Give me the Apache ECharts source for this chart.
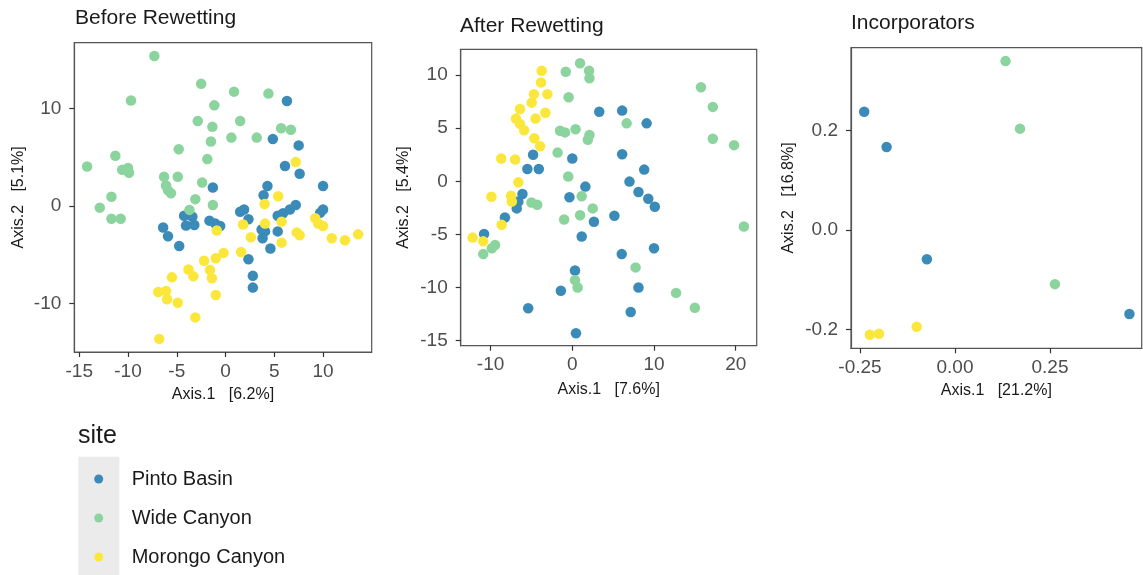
<!DOCTYPE html>
<html>
<head>
<meta charset="utf-8">
<script src="https://cdn.jsdelivr.net/npm/echarts@6/dist/echarts.min.js"></script>
<style>html,body{margin:0;padding:0;background:#fff}#c{width:1143px;height:575px}</style>
</head>
<body>
<div id="c"></div>
<script>
// ---------- data ----------
const sites = ['Pinto Basin', 'Wide Canyon', 'Morongo Canyon'];
const panelTitles = ['Before Rewetting', 'After Rewetting', 'Incorporators'];
const xNames = ['Axis.1   [6.2%]', 'Axis.1   [7.6%]', 'Axis.1   [21.2%]'];
const yNames = ['Axis.2   [5.1%]', 'Axis.2   [5.4%]', 'Axis.2   [16.8%]'];

const ticks1x = [-15, -10, -5, 0, 5, 10, 15];
const ticks1y = [-10, 0, 10];
const ticks2x = [-10, 0, 10, 20];
const ticks2y = [-15, -10, -5, 0, 5, 10];
const ticks3x = [-0.25, 0, 0.25];
const ticks3y = [-0.2, 0, 0.2];

// Before Rewetting
const before_pinto = [[-1.3,1.9],[6.3,10.75],[4.85,6.85],[7.5,6.2],[6.1,4.1],[7.6,3.3],[4.3,2.05],[10.0,2.05],[3.9,1.1],
  [-4.25,-1.0],[-3.4,-1.1],[-4.05,-2.0],[-3.2,-1.95],[-1.65,-1.5],[-1.05,-1.8],[-0.55,-2.05],[-6.4,-2.2],[-5.9,-3.1],
  [-4.75,-4.1],[1.5,-0.58],[1.9,-0.35],[2.35,-1.35],[3.7,-2.4],[4.05,-2.6],[3.8,-3.3],[5.35,-1.0],[5.9,-0.75],
  [6.6,-0.35],[7.2,0.1],[5.35,-2.6],[4.6,-4.35],[9.7,-0.7],[10.0,-0.35],[2.35,-5.45],[2.8,-7.15],[2.8,-8.35]];
const before_wide = [[-7.3,15.35],[-2.5,12.5],[-9.7,10.8],[-1.15,10.3],[-2.85,8.7],[-1.35,8.1],[-1.5,6.6],[-4.8,5.8],
  [-11.3,5.15],[-1.87,4.8],[-14.2,4.05],[-10.6,3.7],[-10.0,3.9],[-9.9,3.4],[-6.3,3.0],[-4.9,3.0],[-6.1,2.1],[-5.9,1.6],
  [-5.6,1.3],[-2.4,2.4],[-11.7,0.95],[-3.1,0.7],[0.87,11.7],[4.4,11.5],[1.5,8.7],[5.7,7.95],[6.7,7.8],[0.6,7.0],
  [3.2,7.0],[-12.9,-0.17],[-11.7,-1.3],[-10.75,-1.3],[-3.7,-0.4],[-1.3,0.1]];
const before_morongo = [[7.2,4.5],[5.4,1.0],[-0.9,-2.5],[-2.2,-5.6],[-1.0,-5.35],[-3.8,-6.5],[-3.3,-7.2],[-1.6,-6.55],
  [-1.4,-7.4],[-5.5,-7.3],[-6.9,-8.8],[-6.1,-8.7],[-6.0,-9.55],[-4.9,-9.9],[-1.0,-9.1],[-3.1,-11.4],[-6.8,-13.6],
  [4.0,0.2],[1.8,-1.9],[4.05,-1.8],[5.75,-1.6],[5.75,-3.75],[2.6,-3.2],[7.3,-2.7],[7.6,-3.0],[9.2,-1.25],[9.5,-1.8],
  [10.0,-2.05],[10.9,-3.3],[12.25,-3.5],[13.6,-2.9],[1.6,-4.7],[-0.2,-4.8]];

// After Rewetting
const after_pinto = [[3.3,6.55],[-4.8,2.5],[-5.5,1.15],[-4.1,1.15],[-6.1,-1.2],[-6.6,-1.9],[0.0,2.15],[1.6,-0.5],
  [-0.35,-1.5],[6.1,6.65],[9.1,5.45],[6.1,2.55],[8.8,1.1],[7.0,-0.03],[8.1,-1.0],[9.3,-1.65],[10.1,-2.4],[-6.8,-2.55],
  [-8.25,-3.4],[-10.8,-4.95],[2.65,-3.8],[1.15,-5.2],[0.33,-8.4],[-1.4,-10.3],[-5.4,-11.95],[0.45,-14.3],[5.15,-3.25],
  [6.05,-6.85],[10.0,-6.3],[8.1,-10.0],[7.15,-12.3]];
const after_wide = [[-5.0,-2.0],[-4.3,-2.2],[-0.8,10.3],[0.95,11.1],[2.05,10.4],[2.1,9.7],[-0.45,7.9],[-1.5,4.75],
  [-0.9,4.6],[0.4,4.9],[2.1,4.35],[1.9,3.9],[-1.8,2.7],[-0.5,0.45],[1.15,-1.4],[2.5,-2.55],[6.65,5.45],[15.75,8.85],
  [17.2,7.0],[17.2,4.0],[19.8,3.4],[-9.45,-6.0],[-9.85,-6.3],[-10.9,-6.85],[-1.0,-3.6],[0.95,-3.2],[0.33,-9.3],
  [0.65,-10.0],[21.0,-4.25],[7.75,-8.1],[12.7,-10.5],[15.0,-11.9]];
const after_morongo = [[-3.75,10.4],[-3.83,9.3],[-4.7,8.2],[-4.97,7.4],[-3.05,8.2],[-6.4,6.8],[-6.9,5.9],[-6.4,5.4],
  [-5.9,4.8],[-4.5,5.9],[-3.3,6.45],[-4.65,4.05],[-3.95,3.3],[-8.7,2.15],[-7.0,2.05],[-6.6,-0.1],[-9.9,-1.45],
  [-7.5,-1.35],[-7.4,-1.9],[-8.65,-4.1],[-12.2,-5.3],[-10.9,-5.65]];

// Incorporators
const inc_pinto = [[-0.239,0.238],[-0.18,0.167],[-0.074,-0.059],[0.459,-0.169]];
const inc_wide = [[0.133,0.340],[0.171,0.204],[0.263,-0.109]];
const inc_morongo = [[-0.224,-0.211],[-0.2,-0.209],[-0.101,-0.195]];

// ---------- styling ----------
const colors = ['#3b8bb8', '#8cd49e', '#fbe73c'];
const FONT = 'Liberation Sans, Arial, Helvetica, sans-serif';
const grids = [
  {left: 74.3, top: 42.7, width: 297.4, height: 309.3},
  {left: 460.7, top: 49.3, width: 296, height: 296.4},
  {left: 851, top: 47.7, width: 290.7, height: 300.6}
];
const xr = [[-15.51, 14.99], [-13.66, 22.57], [-0.2737, 0.4913]];
const yr = [[-14.94, 16.71], [-15.47, 12.42], [-0.2382, 0.367]];
const xt = [ticks1x, ticks2x, ticks3x];
const yt = [ticks1y, ticks2y, ticks3y];
const xFmt = [v => String(v), v => String(v), v => v.toFixed(2)];
const yFmt = [v => String(v), v => String(v), v => v.toFixed(1)];
const xGap = [35, 36, 34];
const yGap = [48, 48.7, 54];
const titleTops = [8, 16, 13];
const titleLefts = [75, 460, 851];

const panelData = [
  [before_pinto, before_wide, before_morongo],
  [after_pinto, after_wide, after_morongo],
  [inc_pinto, inc_wide, inc_morongo]
];

const axisLineStyle = {color: '#555', width: 1.2};
const xAxes = [], yAxes = [], series = [];
for (let i = 0; i < 3; i++) {
  xAxes.push({
    type: 'value', gridIndex: i, min: xr[i][0], max: xr[i][1],
    name: xNames[i], nameLocation: 'middle', nameGap: xGap[i],
    nameTextStyle: {fontFamily: FONT, fontSize: 16, color: '#1a1a1a'},
    axisLine: {show: true, onZero: false, lineStyle: axisLineStyle},
    axisTick: {show: true, length: 5, customValues: xt[i], lineStyle: {color: '#333', width: 1.2}},
    axisLabel: {customValues: xt[i], formatter: xFmt[i], margin: 10, fontFamily: FONT, fontSize: 19, color: '#4d4d4d'},
    splitLine: {show: false}
  });
  yAxes.push({
    type: 'value', gridIndex: i, min: yr[i][0], max: yr[i][1],
    name: yNames[i], nameLocation: 'middle', nameGap: yGap[i], nameRotate: 90,
    nameTextStyle: {fontFamily: FONT, fontSize: 16, color: '#1a1a1a'},
    axisLine: {show: true, onZero: false, lineStyle: axisLineStyle},
    axisTick: {show: true, length: 5, customValues: yt[i], lineStyle: {color: '#333', width: 1.2}},
    axisLabel: {customValues: yt[i], formatter: yFmt[i], margin: 13, fontFamily: FONT, fontSize: 19, color: '#4d4d4d'},
    splitLine: {show: false}
  });
  for (let s = 0; s < 3; s++) {
    series.push({
      type: 'scatter', name: sites[s], xAxisIndex: i, yAxisIndex: i,
      data: panelData[i][s], symbol: 'circle', symbolSize: 10.5,
      itemStyle: {color: colors[s], opacity: 1},
      emphasis: {disabled: true}, silent: true, animation: false
    });
  }
}

const option = {
  backgroundColor: '#ffffff',
  animation: false,
  color: colors,
  title: panelTitles.map((t, i) => ({
    text: t, left: titleLefts[i], top: titleTops[i], padding: 0,
    textStyle: {fontFamily: FONT, fontSize: 21, fontWeight: 'normal', color: '#1a1a1a'}
  })).concat([{
    text: 'site', left: 78, top: 424, padding: 0,
    textStyle: {fontFamily: FONT, fontSize: 25, fontWeight: 'normal', color: '#1a1a1a'}
  }]),
  grid: grids.map(g => Object.assign({show: true, borderColor: '#555', borderWidth: 1.2,
    backgroundColor: 'transparent', outerBoundsMode: 'none', containLabel: false}, g)),
  graphic: [{
    type: 'rect', left: 78.3, top: 456.7, z: -1,
    shape: {width: 41, height: 120}, style: {fill: '#ebebeb'}
  }],
  legend: {
    data: sites, orient: 'vertical', left: 94.2, top: 467, height: 110,
    icon: 'circle', itemWidth: 9, itemHeight: 9, itemGap: 15, padding: 0,
    selectedMode: false,
    textStyle: {fontFamily: FONT, fontSize: 20, color: '#1a1a1a', lineHeight: 24, padding: [0, 0, 0, 23.5]}
  },
  xAxis: xAxes,
  yAxis: yAxes,
  series: series
};

const chart = echarts.init(document.getElementById('c'), null, {renderer: 'canvas'});
chart.setOption(option);
</script>
</body>
</html>
